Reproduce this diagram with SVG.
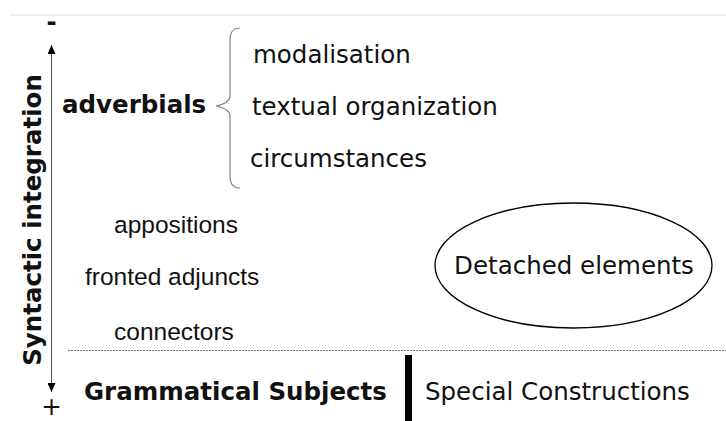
<svg xmlns="http://www.w3.org/2000/svg" width="726" height="421" viewBox="0 0 726 421">
<style>
.dj{font-family:"DejaVu Sans",sans-serif;font-size:24.5px;fill:#111}
.djb{font-family:"DejaVu Sans",sans-serif;font-size:24.5px;font-weight:bold;fill:#111}
.ar{font-family:"Liberation Sans",Arial,sans-serif;font-size:24.5px;fill:#111}
</style>
<defs>
<marker id="ah" markerWidth="9" markerHeight="8" refX="9" refY="4" orient="auto-start-reverse" markerUnits="userSpaceOnUse" viewBox="0 0 9 8">
<path d="M0,0 L9,4 L0,8 Z" fill="#000"/>
</marker>
</defs>
<rect width="726" height="421" fill="#fff"/>
<g id="connectors">
<line x1="10" y1="15" x2="726" y2="15" stroke="#e2e2e2" stroke-width="1"/>
<line x1="51.5" y1="45" x2="51.5" y2="392" stroke="#555" stroke-width="1" marker-start="url(#ah)" marker-end="url(#ah)"/>
<line x1="68" y1="350.5" x2="726" y2="350.5" stroke="#777" stroke-width="1" stroke-dasharray="2,1"/>
<path d="M240,28 Q230,28 230,40 L230,96 Q230,103 216,106 Q230,109 230,116 L230,176 Q230,188 240,188" fill="none" stroke="#888" stroke-width="1.2"/>
<rect x="405" y="355" width="7" height="66" fill="#000"/>
</g>
<g id="axis">
<text x="51.5" y="30" class="djb" text-anchor="middle" font-size="18">-</text>
<text x="51.5" y="415" class="dj" text-anchor="middle" font-size="16">+</text>
<text class="djb" transform="translate(41,220) rotate(-90)" text-anchor="middle">Syntactic integration</text>
</g>
<g id="adverbials"><text x="62" y="113" class="djb">adverbials</text></g>
<g id="modalisation"><text x="253" y="63" class="dj">modalisation</text></g>
<g id="textual"><text x="252" y="115" class="dj">textual organization</text></g>
<g id="circumstances"><text x="250" y="167" class="dj">circumstances</text></g>
<g id="appositions"><text x="114" y="233" class="ar">appositions</text></g>
<g id="fronted"><text x="85" y="285" class="ar">fronted adjuncts</text></g>
<g id="connectors-node"><text x="114" y="340" class="ar">connectors</text></g>
<g id="detached">
<ellipse cx="573.5" cy="265.5" rx="138.5" ry="62.5" fill="none" stroke="#000" stroke-width="1.3"/>
<text x="574" y="274" class="dj" text-anchor="middle">Detached elements</text>
</g>
<g id="subjects"><text x="84" y="400" class="djb">Grammatical Subjects</text></g>
<g id="special"><text x="425" y="400" class="dj">Special Constructions</text></g>
</svg>
